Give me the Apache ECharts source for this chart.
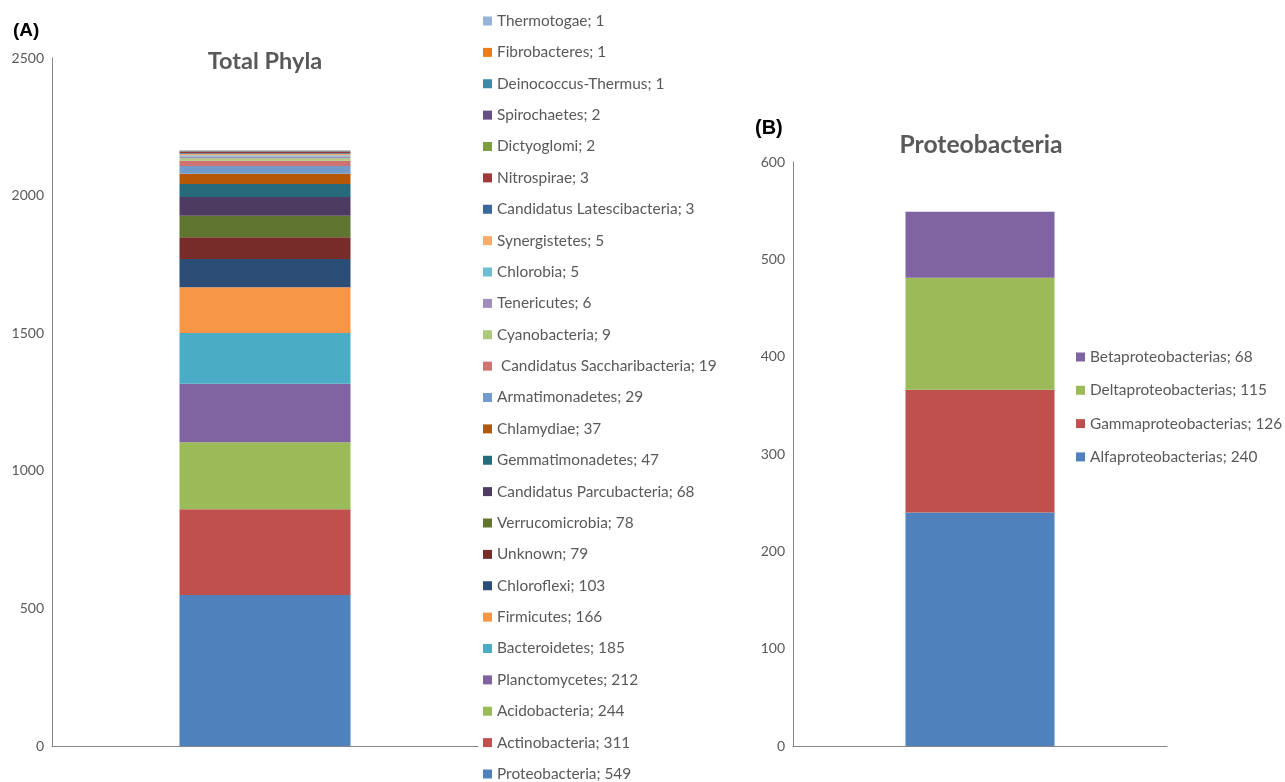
<!DOCTYPE html>
<html>
<head>
<meta charset="utf-8">
<script src="https://cdn.jsdelivr.net/npm/echarts@6/dist/echarts.min.js"></script>
<style>
  html, body { margin: 0; padding: 0; background: #fff; }
  #chart { width: 1285px; height: 782px; }
</style>
</head>
<body>
<div id="chart"></div>
<script>
// Panel A: all phyla, listed bottom of the stack first
const phylaNames = [
  'Proteobacteria', 'Actinobacteria', 'Acidobacteria', 'Planctomycetes',
  'Bacteroidetes', 'Firmicutes', 'Chloroflexi', 'Unknown', 'Verrucomicrobia',
  'Candidatus Parcubacteria', 'Gemmatimonadetes', 'Chlamydiae',
  'Armatimonadetes', ' Candidatus Saccharibacteria', 'Cyanobacteria',
  'Tenericutes', 'Chlorobia', 'Synergistetes', 'Candidatus Latescibacteria',
  'Nitrospirae', 'Dictyoglomi', 'Spirochaetes', 'Deinococcus-Thermus',
  'Fibrobacteres', 'Thermotogae'
];
const phylaCounts = [
  549, 311, 244, 212, 185, 166, 103, 79, 78, 68, 47, 37, 29, 19, 9, 6, 5, 5,
  3, 3, 2, 2, 1, 1, 1
];
const phylaColors = [
  '#4F81BD', '#C0504D', '#9BBB59', '#8064A2', '#4BACC6', '#F79646',
  '#2C4D75', '#772C2A', '#5F7530', '#4D3B62', '#276A7C', '#B65708',
  '#729ACA', '#CD7371', '#AFC97A', '#A18CBA', '#6FBDD1', '#F9AB6B',
  '#3A679C', '#9E3B38', '#7E9D40', '#664F82', '#358EA6', '#F07C19',
  '#95B3D7'
];

// Panel B: Proteobacteria classes, bottom of the stack first
const classNames = [
  'Alfaproteobacterias', 'Gammaproteobacterias', 'Deltaproteobacterias',
  'Betaproteobacterias'
];
const classCounts = [240, 126, 115, 68];
const classColors = ['#4F81BD', '#C0504D', '#9BBB59', '#8064A2'];

// Axis tick values
const ticksA = [0, 500, 1000, 1500, 2000, 2500];
const ticksB = [0, 100, 200, 300, 400, 500, 600];

const FONT = 'Lato, "Open Sans", sans-serif';
const GREY = '#595959';
const AXIS = '#868686';

const countOf = {};
phylaNames.forEach((n, i) => { countOf[n] = phylaCounts[i]; });
classNames.forEach((n, i) => { countOf[n] = classCounts[i]; });

function valueAxis(idx, ticks) {
  return {
    type: 'value',
    gridIndex: idx,
    min: ticks[0],
    max: ticks[ticks.length - 1],
    interval: ticks[1] - ticks[0],
    splitLine: { show: false },
    axisLine: { show: true, lineStyle: { color: AXIS, width: 1 } },
    axisTick: { show: false },
    axisLabel: {
      color: GREY, fontFamily: FONT, fontSize: 14, margin: 8,
      formatter: v => String(v)
    }
  };
}

function catAxis(idx) {
  return {
    type: 'category',
    gridIndex: idx,
    data: [''],
    axisLine: { show: true, lineStyle: { color: AXIS, width: 1 } },
    axisTick: { show: false },
    axisLabel: { show: false }
  };
}

const series = [];
phylaNames.forEach((n, i) => {
  series.push({
    type: 'bar', name: n, stack: 'phyla',
    xAxisIndex: 0, yAxisIndex: 0,
    barWidth: 171,
    itemStyle: { color: phylaColors[i] },
    data: [phylaCounts[i]]
  });
});
classNames.forEach((n, i) => {
  series.push({
    type: 'bar', name: n, stack: 'proteo',
    xAxisIndex: 1, yAxisIndex: 1,
    barWidth: 149,
    itemStyle: { color: classColors[i] },
    data: [classCounts[i]]
  });
});

const ROW_H = 16;
const legendText = { color: GREY, fontFamily: FONT, fontSize: 15.4, lineHeight: ROW_H };

function legendBlock(names, left, top, step) {
  return {
    orient: 'vertical', left: left, top: top, padding: 0,
    // tall box so the long phyla column stays a single column
    height: 1000,
    icon: 'rect', itemWidth: 9, itemHeight: 9, itemGap: step - ROW_H,
    selectedMode: false,
    data: names,
    formatter: n => n + '; ' + countOf[n],
    textStyle: legendText
  };
}

const option = {
  animation: false,
  backgroundColor: '#ffffff',
  title: [
    { text: '(A)', left: 8, top: 16,
      textStyle: { color: '#000', fontFamily: 'Liberation Sans, Arial, sans-serif', fontSize: 19, fontWeight: 'bold' } },
    { text: 'Total Phyla', left: 260, top: 44, textAlign: 'center',
      textStyle: { color: GREY, fontFamily: FONT, fontSize: 23.5, fontWeight: 'bold' } },
    { text: '(B)', left: 750, top: 113,
      textStyle: { color: '#000', fontFamily: 'Liberation Sans, Arial, sans-serif', fontSize: 20, fontWeight: 'bold' } },
    { text: 'Proteobacteria', left: 976, top: 128, textAlign: 'center',
      textStyle: { color: GREY, fontFamily: FONT, fontSize: 24.7, fontWeight: 'bold' } }
  ],
  grid: [
    { left: 52, top: 58, width: 426, bottom: 36 },
    { left: 793, top: 162, width: 374, bottom: 36 }
  ],
  xAxis: [catAxis(0), catAxis(1)],
  yAxis: [valueAxis(0, ticksA), valueAxis(1, ticksB)],
  legend: [
    legendBlock(phylaNames.slice().reverse(), 483, 13, 31.375),
    legendBlock(classNames.slice().reverse(), 1076, 349, 33.3)
  ],
  series: series
};

const chart = echarts.init(document.getElementById('chart'), null, { renderer: 'canvas' });
chart.setOption(option);
</script>
</body>
</html>
